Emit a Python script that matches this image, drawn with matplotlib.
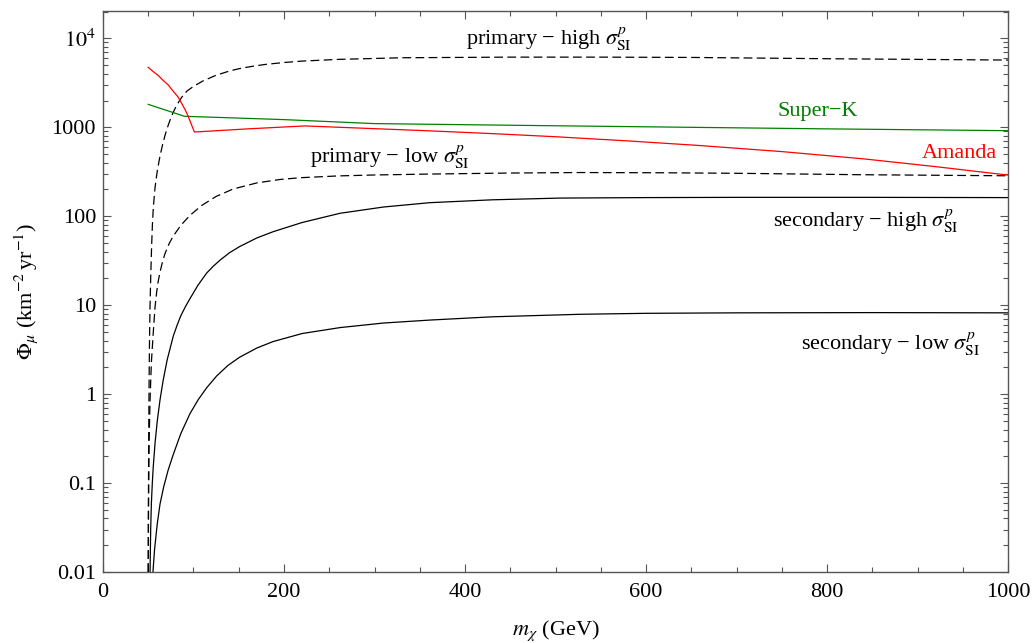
import numpy as np
import matplotlib
matplotlib.use("Agg")
import matplotlib.pyplot as plt
from matplotlib.ticker import FixedLocator, LogLocator, FuncFormatter, NullFormatter

plt.rcParams['font.family'] = 'serif'
plt.rcParams['font.serif'] = ['Liberation Serif', 'DejaVu Serif']
plt.rcParams['mathtext.fontset'] = 'stix'

# neutralino mass (GeV) and muon flux (km^-2 yr^-1)
m_prim_hi = [50, 50.2, 50.5, 50.9, 51.4, 52, 52.8, 53.7, 54.6, 55.6, 57.5, 60,
             63, 66, 69, 72, 75, 78, 82, 87, 93, 100, 110, 125, 140, 150, 165,
             180, 200, 220, 260, 330, 450, 550, 650, 800, 900, 1000]
phi_prim_hi = [0.01, 0.06, 0.3, 1.2, 4, 10, 22, 45, 80, 125, 210, 324,
               475, 648, 843, 1050, 1276, 1506, 1810, 2176, 2568, 2880, 3300, 3850, 4300, 4550, 4850,
               5100, 5350, 5550, 5800, 6050, 6150, 6150, 6100, 5900, 5800, 5700]

m_prim_lo = [50, 50.2, 50.5, 51, 52, 53.5, 55.6, 57.5, 59.3, 61, 63, 65.5, 68.5,
             73, 77.7, 86, 96, 109, 125, 143.6, 170, 195.6, 217.7, 260, 300, 361,
             450, 527, 620, 700, 836, 1000]
phi_prim_lo = [0.01, 0.03, 0.1, 0.3, 0.86, 2.3, 5.0, 9.5, 14, 18.5, 23.5, 30, 38,
               49, 60, 79, 102, 132, 167, 202, 237, 259, 271, 284, 291, 298,
               306, 310, 308, 304, 293, 285]

m_sec_hi = [52, 52.7, 53.5, 54.5, 55.5, 57.5, 60, 63, 66.6, 71, 77.7, 82, 86, 91,
            96, 105, 114.6, 122, 130, 140, 151, 170, 188, 220, 262, 310, 361,
            430, 505, 600, 700, 850, 1000]
phi_sec_hi = [0.01, 0.03, 0.06, 0.1, 0.15, 0.28, 0.5, 0.86, 1.45, 2.45, 4.5, 6.0, 7.6, 9.6,
              11.8, 16.8, 23.0, 27.5, 32.5, 39, 45.6, 57, 67, 85, 108, 127, 142,
              153, 160, 162, 163, 163, 162]

m_sec_lo = [55.2, 57, 60, 63, 67, 72, 77.7, 86, 96, 105, 114.6, 125.6, 138, 151,
            170, 188, 220, 262, 310, 361, 430, 527, 600, 700, 850, 1000]
phi_sec_lo = [0.01, 0.018, 0.035, 0.058, 0.09, 0.14, 0.21, 0.36, 0.6, 0.86, 1.18, 1.6, 2.1, 2.6,
              3.3, 3.9, 4.8, 5.6, 6.3, 6.8, 7.4, 7.9, 8.1, 8.2, 8.25, 8.2]

# experimental limits
m_superk = [50, 90, 200, 300, 500, 800, 1000]
phi_superk = [1810, 1330, 1220, 1100, 1040, 960, 916]

m_amanda = [50, 55, 61, 66, 72, 77, 83, 87, 91, 94, 97, 101, 160, 223, 300,
            361, 430, 500, 580, 660, 750, 840, 920, 1000]
phi_amanda = [4720, 4270, 3830, 3400, 3000, 2590, 2190, 1850, 1560, 1340, 1120, 885, 960, 1036, 965,
              912, 849, 783, 703, 623, 533, 442, 361, 290]

fig = plt.figure(figsize=(10.35, 6.43), dpi=100)
ax = fig.add_axes([0.0995, 0.1104, 0.8745, 0.8725])

dash = (7, 3.5)
ax.plot(m_prim_hi, phi_prim_hi, color='black', lw=0.9, dashes=dash)
ax.plot(m_prim_lo, phi_prim_lo, color='black', lw=0.9, dashes=dash)
ax.plot(m_sec_hi, phi_sec_hi, color='black', lw=0.9)
ax.plot(m_sec_lo, phi_sec_lo, color='black', lw=0.9)
ax.plot(m_superk, phi_superk, color='#007f00', lw=0.9)
ax.plot(m_amanda, phi_amanda, color='#ff0000', lw=0.9)

ax.set_yscale('log')
ax.set_xlim(0, 1000)
ax.set_ylim(0.01, 2.03e4)

# Mathematica-style frame ticks
ax.xaxis.set_major_locator(FixedLocator([0, 200, 400, 600, 800, 1000]))
ax.xaxis.set_minor_locator(FixedLocator(np.arange(0, 1001, 50)))
ax.yaxis.set_major_locator(LogLocator(base=10, numticks=20))
ax.yaxis.set_minor_locator(LogLocator(base=10, subs=np.arange(2, 10), numticks=20))
ax.yaxis.set_minor_formatter(NullFormatter())

def ylab(v, pos):
    if v >= 1e4:
        return r'$10^{4}$'
    if v >= 1:
        return '%d' % round(v)
    return ('%g' % v)
ax.yaxis.set_major_formatter(FuncFormatter(ylab))

ax.tick_params(which='both', direction='in', top=True, right=True,
               color='#555555', labelsize=16)
ax.tick_params(axis='x', which='both', pad=8)
ax.tick_params(axis='y', which='both', pad=5)
ax.tick_params(which='major', length=6, width=0.8)
ax.tick_params(which='minor', length=3.3, width=0.8)
for s in ax.spines.values():
    s.set_color('#555555')
    s.set_linewidth(1.0)

ax.set_xlabel(r'$m_\chi$ (GeV)', fontsize=16, labelpad=12)
ax.set_ylabel(r'$\Phi_\mu$ (km$^{-2}\,$yr$^{-1}$)', fontsize=16, labelpad=8)

sig = r'$\sigma^{p}_{\mathrm{SI}}$'
ax.text(493, 8400, 'primary − high ' + sig, fontsize=16, ha='center', va='baseline')
ax.text(317, 395, 'primary − low ' + sig, fontsize=16, ha='center', va='baseline')
ax.text(790, 1340, 'Super−K', fontsize=16, ha='center', va='baseline', color='#007f00')
ax.text(988, 449, 'Amanda', fontsize=16, ha='right', va='baseline', color='#ff0000')
ax.text(843, 75, 'secondary − high ' + sig, fontsize=16, ha='center', va='baseline')
ax.text(870, 3.15, 'secondary − low ' + sig, fontsize=16, ha='center', va='baseline')

fig.savefig('out.png', dpi=100)
